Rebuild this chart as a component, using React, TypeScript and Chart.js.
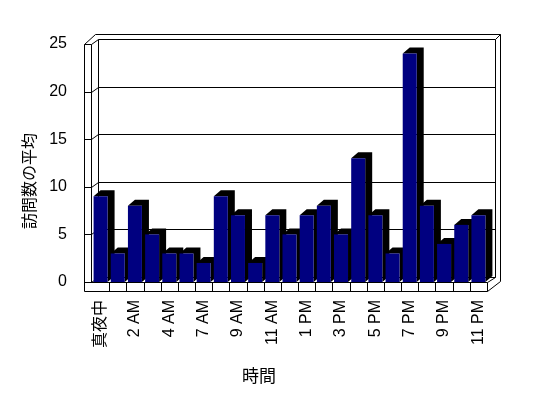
import React, { useEffect, useRef } from "react";
import { Chart, registerables } from "chart.js";

Chart.register(...registerables);

// ---- data ----
const hours: string[] = [
  "真夜中", "1 AM", "2 AM", "3 AM", "4 AM", "6 AM", "7 AM", "8 AM", "9 AM", "10 AM", "11 AM", "正午",
  "1 PM", "2 PM", "3 PM", "4 PM", "5 PM", "6 PM", "7 PM", "8 PM", "9 PM", "10 PM", "11 PM",
];
const visits: number[] = [9, 3, 8, 5, 3, 3, 2, 9, 7, 2, 7, 5, 7, 8, 5, 13, 7, 3, 24, 8, 4, 6, 7];
const yTicks: number[] = [0, 5, 10, 15, 20, 25];
const xTitle = "時間";
const yTitle = "訪問数の平均";

const FONT = "'Liberation Sans', 'Noto Sans CJK JP', sans-serif";
const CJK = "'Noto Sans CJK JP', sans-serif";

const frame3d = {
  id: "frame3d",
  beforeDatasetsDraw(chart: any) {
    const ctx = chart.ctx as CanvasRenderingContext2D;
    const { left: L, right: R, top: T, bottom: B } = chart.chartArea;
    const ys = chart.scales.y;
    const n = hours.length;
    const w = (R - L) / n;
    const fx0 = L - 8; // outer left of left wall
    const fx1 = L - 1; // inner front edge of left wall
    const dx = 7, dy = -5;
    const bx0 = fx1 + dx; // back wall left
    const bx1 = R + 8; // back wall right
    const fb = B + 9; // floor front bottom
    const line = (x1: number, y1: number, x2: number, y2: number) => {
      ctx.beginPath();
      ctx.moveTo(Math.round(x1) + 0.5, Math.round(y1) + 0.5);
      ctx.lineTo(Math.round(x2) + 0.5, Math.round(y2) + 0.5);
      ctx.stroke();
    };
    ctx.save();
    ctx.strokeStyle = "#000";
    ctx.lineWidth = 1;
    // outer box
    line(fx0, T, fx0, fb);
    line(fx1, T, fx1, B);
    line(fx0, T, fx0 + 11, T - 10);
    line(fx0 + 11, T - 10, R + 13, T - 10);
    line(R + 13, T - 10, R + 13, B - 1);
    line(R, fb, R + 13, B - 1);
    line(fx0, fb, R, fb);
    line(R, B, R, fb);
    line(fx0, B, R, B);
    line(R, B, bx1, B + dy);
    for (let k = 1; k < n; k++) {
      const x = L + k * w;
      line(x, B, x, fb);
    }
    // inner walls
    line(bx0, T + dy, bx0, B + dy);
    line(bx1, T + dy, bx1, B + dy);
    line(bx1, T + dy, R + 13, T - 10);
    // gridlines / ticks
    for (const v of yTicks) {
      const y = ys.getPixelForValue(v);
      line(fx0, y, fx1, y);
      line(fx1, y, bx0, y + dy);
      line(bx0, y + dy, bx1, y + dy);
    }
    // bar extrusions
    const meta = chart.getDatasetMeta(0);
    ctx.fillStyle = "#000";
    const ex = 7, ey = -6;
    meta.data.forEach((bar: any) => {
      const { x, y, base, width } = bar.getProps(["x", "y", "base", "width"], true);
      const x1 = x - width / 2;
      const x2 = x + width / 2;
      ctx.beginPath();
      ctx.moveTo(x1, y);
      ctx.lineTo(x1 + ex, y + ey);
      ctx.lineTo(x2 + ex, y + ey);
      ctx.lineTo(x2 + ex, base + ey);
      ctx.lineTo(x2, base);
      ctx.lineTo(x2, y);
      ctx.closePath();
      ctx.fill();
    });
    ctx.restore();
  },
  afterDraw(chart: any) {
    const ctx = chart.ctx as CanvasRenderingContext2D;
    ctx.save();
    ctx.fillStyle = "#000";
    ctx.textAlign = "center";
    ctx.textBaseline = "middle";
    ctx.font = `17px ${CJK}`;
    ctx.fillText(xTitle, 259, 376);
    ctx.translate(29, 181);
    ctx.rotate(-Math.PI / 2);
    ctx.font = `16px ${CJK}`;
    ctx.fillText(yTitle, 0, 0);
    ctx.restore();
  },
};

export default function App() {
  const ref = useRef<HTMLCanvasElement | null>(null);
  useEffect(() => {
    if (!ref.current) return;
    const chart = new Chart(ref.current, {
      type: "bar",
      data: {
        labels: hours,
        datasets: [
          {
            data: visits,
            backgroundColor: "#000080",
            borderWidth: 0,
            barPercentage: 0.815,
            categoryPercentage: 1,
          },
        ],
      },
      options: {
        responsive: false,
        animation: false,
        layout: { padding: { left: 0, right: 61, top: 44, bottom: 0 } },
        plugins: { legend: { display: false }, tooltip: { enabled: false } },
        scales: {
          x: {
            grid: { display: false, drawTicks: false },
            border: { display: false },
            ticks: {
              autoSkip: false,
              maxRotation: 90,
              minRotation: 90,
              padding: 18,
              color: "#000",
              font: { family: FONT, size: 16 },
              callback: (_v: any, i: number) => (i % 2 === 0 ? hours[i] : ""),
            },
            afterFit: (s: any) => {
              s.height = 116;
            },
          },
          y: {
            min: 0,
            max: 25,
            grid: { display: false, drawTicks: false },
            border: { display: false },
            ticks: {
              stepSize: 5,
              padding: 25,
              color: "#000",
              font: { family: FONT, size: 16 },
            },
            afterFit: (s: any) => {
              s.width = 92;
            },
          },
        },
      },
      plugins: [frame3d],
    });
    return () => chart.destroy();
  }, []);
  return (
    <div style={{ position: "fixed", left: 0, top: 0, width: 548, height: 398, background: "#fff" }}>
      <canvas ref={ref} width={548} height={398} style={{ display: "block" }} />
    </div>
  );
}
